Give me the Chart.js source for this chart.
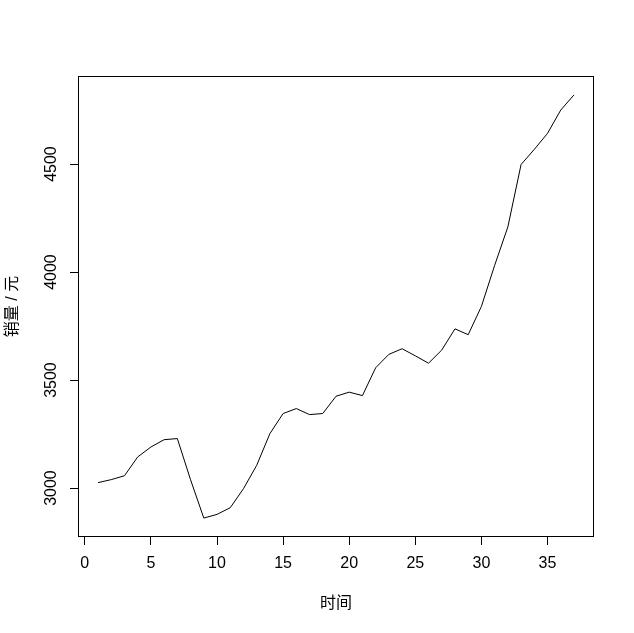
<!DOCTYPE html>
<html>
<head>
<meta charset="utf-8">
<script src="https://cdn.jsdelivr.net/npm/chart.js@4"></script>
<style>
  html, body { margin: 0; padding: 0; background: #fff; }
  canvas { display: block; }
</style>
</head>
<body>
<canvas id="myChart" width="634" height="633"></canvas>
<script>
// data
const days = [1, 2, 3, 4, 5, 6, 7, 8, 9, 10, 11, 12, 13, 14, 15, 16, 17, 18, 19,
    20, 21, 22, 23, 24, 25, 26, 27, 28, 29, 30, 31, 32, 33, 34, 35, 36, 37];
const sales = [3025, 3039, 3057, 3144, 3190, 3224, 3229, 3038, 2861, 2878, 2909,
    2997, 3105, 3252, 3345, 3368, 3340, 3345, 3425, 3444, 3428, 3557, 3619, 3645,
    3612, 3578, 3639, 3737, 3710, 3841, 4031, 4209, 4498, 4568, 4642, 4750, 4820];
const xTicks = [0, 5, 10, 15, 20, 25, 30, 35];
const yTicks = [3000, 3500, 4000, 4500];

const FONT = "'Liberation Sans', Arial, 'Noto Sans CJK SC', sans-serif";

(() => {
    "use strict";

    // box round the plot, like R's box()
    const frame = {
        id: "frame",
        afterDraw(chart) {
            const { ctx, chartArea: a } = chart;
            ctx.save();
            ctx.strokeStyle = "#000";
            ctx.lineWidth = 1;
            ctx.strokeRect(a.left - 0.5, a.top - 0.5, a.right - a.left + 1, a.bottom - a.top + 1);
            ctx.restore();
        },
    };

    // y tick labels turned to read bottom-to-top
    const yLabels = {
        id: "yLabels",
        afterDraw(chart) {
            const { ctx } = chart;
            const y = chart.scales.y;
            ctx.save();
            ctx.fillStyle = "#000";
            ctx.font = "16px " + FONT;
            ctx.textAlign = "center";
            ctx.textBaseline = "alphabetic";
            y.ticks.forEach((t) => {
                ctx.save();
                ctx.translate(56, y.getPixelForValue(t.value));
                ctx.rotate(-Math.PI / 2);
                ctx.fillText(String(t.value), 0, 0);
                ctx.restore();
            });
            ctx.restore();
        },
    };

    const ctx = document.getElementById("myChart");
    // eslint-disable-next-line no-unused-vars
    const myChart = new Chart(ctx, {
        type: "line",
        data: {
            datasets: [
                {
                    data: days.map((d, i) => ({ x: d, y: sales[i] })),
                    borderColor: "#000",
                    borderWidth: 1,
                    pointRadius: 0,
                    tension: 0,
                    fill: false,
                },
            ],
        },
        options: {
            responsive: false,
            animation: false,
            devicePixelRatio: 1,
            layout: { padding: { top: 77, right: 41, left: 0, bottom: 0 } },
            plugins: {
                legend: { display: false },
                tooltip: { enabled: false },
            },
            scales: {
                x: {
                    type: "linear",
                    min: -0.44,
                    max: 38.44,
                    afterBuildTicks: (s) => { s.ticks = xTicks.map((v) => ({ value: v })); },
                    afterFit: (s) => { s.height = 97; },
                    grid: { drawOnChartArea: false, drawTicks: true, tickLength: 9, color: "#000" },
                    border: { display: false },
                    ticks: { color: "#000", font: { family: FONT, size: 16 }, padding: 9, maxRotation: 0 },
                    title: {
                        display: true,
                        text: "时间",
                        color: "#000",
                        font: { family: FONT, size: 16 },
                        padding: { top: 20, bottom: 20 },
                    },
                },
                y: {
                    min: 2778,
                    max: 4903,
                    afterBuildTicks: (s) => { s.ticks = yTicks.map((v) => ({ value: v })); },
                    afterFit: (s) => { s.width = 79; },
                    grid: { drawOnChartArea: false, drawTicks: true, tickLength: 9, color: "#000" },
                    border: { display: false },
                    ticks: { display: false },
                    title: {
                        display: true,
                        text: "销量 / 元",
                        color: "#000",
                        font: { family: FONT, size: 16 },
                        padding: { top: 3, bottom: 3 },
                    },
                },
            },
        },
        plugins: [frame, yLabels],
    });
})();
</script>
</body>
</html>
